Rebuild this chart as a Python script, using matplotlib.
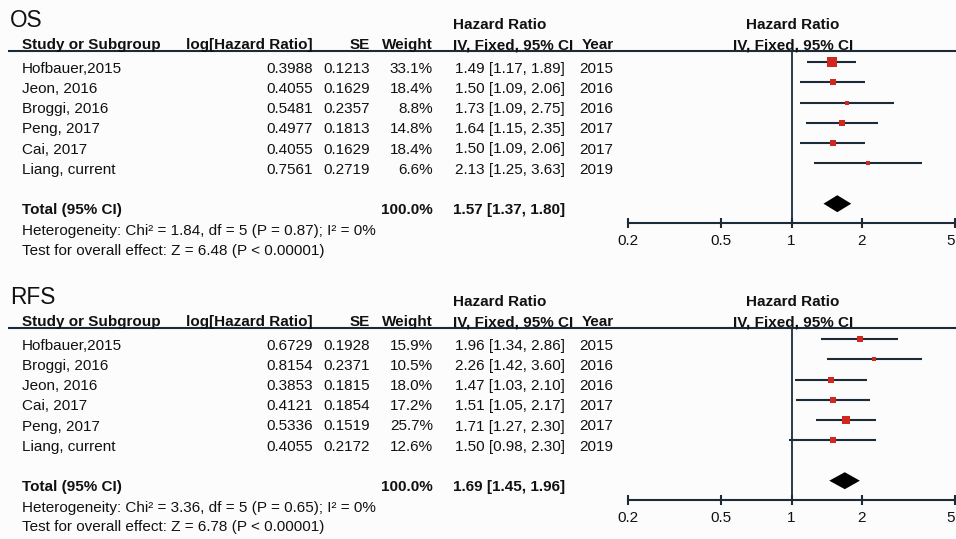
import matplotlib
matplotlib.use("Agg")
import matplotlib.pyplot as plt
import numpy as np

plt.rcParams['font.family'] = ['Liberation Sans', 'DejaVu Sans']

# OS data
os_studies = ["Hofbauer,2015", "Jeon, 2016", "Broggi, 2016", "Peng, 2017", "Cai, 2017", "Liang, current"]
os_loghr = ["0.3988", "0.4055", "0.5481", "0.4977", "0.4055", "0.7561"]
os_se = ["0.1213", "0.1629", "0.2357", "0.1813", "0.1629", "0.2719"]
os_weight = [33.1, 18.4, 8.8, 14.8, 18.4, 6.6]
os_hr = [1.49, 1.50, 1.73, 1.64, 1.50, 2.13]
os_lo = [1.17, 1.09, 1.09, 1.15, 1.09, 1.25]
os_hi = [1.89, 2.06, 2.75, 2.35, 2.06, 3.63]
os_year = [2015, 2016, 2016, 2017, 2017, 2019]
os_total = [1.57, 1.37, 1.80]
os_het = "Heterogeneity: Chi² = 1.84, df = 5 (P = 0.87); I² = 0%"
os_test = "Test for overall effect: Z = 6.48 (P < 0.00001)"

# RFS data
rfs_studies = ["Hofbauer,2015", "Broggi, 2016", "Jeon, 2016", "Cai, 2017", "Peng, 2017", "Liang, current"]
rfs_loghr = ["0.6729", "0.8154", "0.3853", "0.4121", "0.5336", "0.4055"]
rfs_se = ["0.1928", "0.2371", "0.1815", "0.1854", "0.1519", "0.2172"]
rfs_weight = [15.9, 10.5, 18.0, 17.2, 25.7, 12.6]
rfs_hr = [1.96, 2.26, 1.47, 1.51, 1.71, 1.50]
rfs_lo = [1.34, 1.42, 1.03, 1.05, 1.27, 0.98]
rfs_hi = [2.86, 3.60, 2.10, 2.17, 2.30, 2.30]
rfs_year = [2015, 2016, 2016, 2017, 2017, 2019]
rfs_total = [1.69, 1.45, 1.96]
rfs_het = "Heterogeneity: Chi² = 3.36, df = 5 (P = 0.65); I² = 0%"
rfs_test = "Test for overall effect: Z = 6.78 (P < 0.00001)"

ticks = [0.2, 0.5, 1, 2, 5]

W, H = 956, 539
bg = '#fcfcfd'
txt = '#111111'
line_c = '#1b2b38'
box_c = '#d0281f'
fs = 11.0

fig = plt.figure(figsize=(W / 100, H / 100), dpi=100, facecolor=bg)
ax0 = fig.add_axes([0, 0, 1, 1])
ax0.set_xlim(0, W)
ax0.set_ylim(H, 0)
ax0.axis('off')

# forest area in pixels
fx0, fx1 = 628, 955


def panel(title, studies, loghr, se, weight, hr, lo, hi, year, total, het, test, y0):
    t = dict(color=txt, fontsize=fs, va='baseline')
    b = dict(t, fontweight='bold')
    ax0.text(10, y0 + 26.7, title, color=txt, fontsize=16.3, va='baseline')
    ax0.text(453, y0 + 29.3, "Hazard Ratio", ha='left', **b)
    ax0.text(793, y0 + 29.3, "Hazard Ratio", ha='center', **b)
    hb = y0 + 49.3
    ax0.text(22, hb, "Study or Subgroup", ha='left', **b)
    ax0.text(313, hb, "log[Hazard Ratio]", ha='right', **b)
    ax0.text(370, hb, "SE", ha='right', **b)
    ax0.text(433, hb, "Weight", ha='right', **b)
    ax0.text(453, hb, "IV, Fixed, 95% CI", ha='left', **b)
    ax0.text(614, hb, "Year", ha='right', **b)
    ax0.text(793, hb, "IV, Fixed, 95% CI", ha='center', **b)
    ax0.plot([8, W], [y0 + 50.7, y0 + 50.7], color=line_c, lw=1.5, solid_capstyle='butt')

    for i in range(len(studies)):
        yb = y0 + 72.7 + 20.2 * i
        ax0.text(22, yb, studies[i], ha='left', **t)
        ax0.text(313, yb, loghr[i], ha='right', **t)
        ax0.text(370, yb, se[i], ha='right', **t)
        ax0.text(433, yb, f"{weight[i]:.1f}%", ha='right', **t)
        ax0.text(565, yb, f"{hr[i]:.2f} [{lo[i]:.2f}, {hi[i]:.2f}]", ha='right', **t)
        ax0.text(613, yb, str(year[i]), ha='right', **t)

    yt = y0 + 72.7 + 20.2 * 7
    ax0.text(22, yt, "Total (95% CI)", ha='left', **b)
    ax0.text(433, yt, "100.0%", ha='right', **b)
    ax0.text(565, yt, f"{total[0]:.2f} [{total[1]:.2f}, {total[2]:.2f}]", ha='right', **b)
    ax0.text(22, y0 + 235, het, ha='left', **t)
    ax0.text(22, y0 + 254.5, test, ha='left', **t)

    # forest plot
    top, bot = y0 + 50.7, y0 + 223.3
    ax = fig.add_axes([fx0 / W, 1 - bot / H, (fx1 - fx0) / W, (bot - top) / H])
    ax.patch.set_alpha(0)
    ax.set_xscale('log')
    ax.set_xlim(0.2, 5)
    ax.set_ylim(7.97, -0.574)
    for s in ['top', 'left', 'right']:
        ax.spines[s].set_visible(False)
    ax.spines['bottom'].set_color(line_c)
    ax.spines['bottom'].set_linewidth(1.5)
    ax.set_yticks([])
    ax.set_xticks(ticks)
    ax.set_xticklabels([f"{v:g}" for v in ticks])
    ax.minorticks_off()
    ax.tick_params(axis='x', direction='inout', length=7, width=1.5, color=line_c,
                   labelsize=fs, labelcolor=txt, pad=4)
    ax.get_xticklabels()[-1].set_horizontalalignment('right')
    ax.axvline(1, color=line_c, lw=1.3)
    rows = np.arange(len(studies))
    ax.hlines(rows, lo, hi, color=line_c, lw=1.5)
    for i in rows:
        side = 2 + 0.25 * weight[i]
        ax.plot(hr[i], i, marker='s', color=box_c, markersize=side * 0.72,
                markeredgewidth=0, linestyle='none')
    h = 0.42
    ax.fill([total[1], total[0], total[2], total[0]], [7, 7 - h, 7, 7 + h],
            color='black', lw=0)


panel("OS", os_studies, os_loghr, os_se, os_weight, os_hr, os_lo, os_hi, os_year,
      os_total, os_het, os_test, 0)
panel("RFS", rfs_studies, rfs_loghr, rfs_se, rfs_weight, rfs_hr, rfs_lo, rfs_hi, rfs_year,
      rfs_total, rfs_het, rfs_test, 277)

fig.savefig("out.png", dpi=100, facecolor=bg)
